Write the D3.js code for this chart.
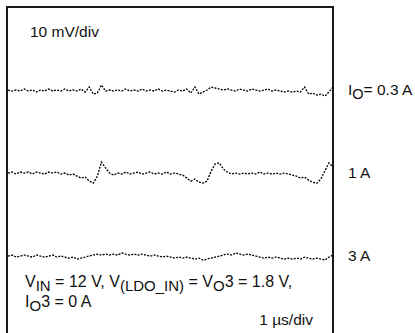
<!DOCTYPE html>
<html>
<head>
<meta charset="utf-8">
<script src="https://cdn.jsdelivr.net/npm/d3@7"></script>
<style>
  body { margin: 0; background: #fff; }
  svg text { font-family: "Liberation Sans", Arial, sans-serif; fill: #111; }
</style>
</head>
<body>
<div id="chart"></div>
<script>
// time axis: 0..10 us, 1 us/div ; vertical: 10 mV/div
const timeSpan = [0, 10];
const voltSpan = [0, 80];

// trace labels (text in _{} is a subscript)
const seriesLabels = ["I_{O}= 0.3 A", "1 A", "3 A"];
// screen offset of each trace, mV
const seriesOffsets = [59.5, 39, 18.5];

const ripple03A = [
  0, -0.25, 0, -0.25, 0.25, -0.25, 0, -0.5, 0, -0.25,
  0.25, -0.25, 0, -0.25, 0.25, -0.25, 0, -0.25, 0.25, -0.5,
  0.75, -1, -0.75, 1.25, -0.25, 0, -0.25, 0, -0.25, 0.25,
  -0.25, 0, -0.25, 0.25, -0.25, 0, -0.25, 0.25, -0.25, 0,
  -0.25, -0.5, 0, -0.25, 0.25, -0.75, 0.75, -1, -0.5, 0,
  0.75, 0.5, 0.25, 0, 0.25, 0, -0.25, 0.25, 0, -0.25,
  0.25, 0, -0.25, 0, 0.25, -0.25, 0, -0.25, -0.5, -0.25,
  -0.5, -0.25, -0.5, 0.75, -1, -0.75, -1.25, -1, -1.5, -0.5, 0.75
];
const ripple1A = [
  0, 0.25, -0.25, 0.25, 0, 0.25, -0.25, 0.25, 0, -0.25,
  0.25, 0, 0.25, -0.25, 0, -0.5, -0.25, -0.75, -1.25, -1,
  -2, -2.5, -0.75, 2.75, 1.25, 0, -0.5, 0, -0.25, 0.25,
  -0.25, 0, 0.25, -0.25, 0, 0.25, -0.25, 0, -0.25, 0.25,
  -0.25, 0, -0.25, -0.5, -1.25, -2, -1.5, -2.25, -2.5, -2,
  0.5, 2.25, 2.5, 1, 0.25, -0.25, 0, -0.25, 0, -0.25,
  0, -0.25, 0.25, -0.25, 0, -0.25, 0, -0.25, 0, -0.25,
  -0.5, -0.75, -1.25, -1, -1.75, -2.25, -2.5, -1.5, 0.5, 2.5, 1.5
];
const ripple3A = [
  0, 0.25, -0.25, 0, 0.25, 0, -0.25, 0.25, 0, -0.25,
  0, 0.25, -0.25, 0, -0.25, -0.5, -0.25, -0.75, -0.5, -0.25,
  0, 0.25, 0.5, 0.25, 0.5, 0.25, 0.5, 0.25, 0.75, 0.5,
  0.25, 0.5, 0.25, 0.5, 0.25, 0, 0.25, 0, -0.25, 0,
  -0.25, -0.5, -0.25, -0.5, -0.25, -0.5, -0.75, -0.5, -1, -0.75,
  -0.5, -0.25, 0, 0.25, 0.5, 0.25, 0.75, 0.5, 0.25, 0.5,
  0.25, 0, -0.25, -0.5, -0.25, -0.5, -0.25, -0.5, -0.75, -0.5,
  -0.75, -0.5, -0.75, -0.25, -0.5, -0.75, -0.5, -0.75, -1, -0.25, 0.25
];
const seriesValues = [ripple03A, ripple1A, ripple3A];

const scaleNote = "10 mV/div";
const timeNote = "1 \u00b5s/div";
const conditionLines = [
  "V_{IN} = 12 V, V_{(LDO_IN)} = V_{O}3 = 1.8 V,",
  "I_{O}3 = 0 A"
];

const W = 415, H = 333;
const box = { left: 7, top: 7, right: 333, bottom: 331 };
const fontSize = 16;

const svg = d3.select("#chart").append("svg")
  .attr("width", W)
  .attr("height", H);

const x = d3.scaleLinear().domain(timeSpan).range([box.left + 1, box.right]);
const y = d3.scaleLinear().domain(voltSpan).range([box.bottom, box.top]);

// write text with _{..} subscripts as tspans
function richText(sel, str, size) {
  const parts = str.split(/(_\{[^}]*\})/).filter(s => s.length);
  let sub = false;
  parts.forEach(function(p) {
    if (p.startsWith("_{")) {
      sel.append("tspan").attr("dy", 3.5).style("font-size", (size - 1) + "px").text(p.slice(2, -1));
      sub = true;
    } else {
      sel.append("tspan").attr("dy", sub ? -3.5 : 0).style("font-size", size + "px").text(p);
      sub = false;
    }
  });
}

// frame (open at the bottom, runs off the picture)
svg.append("path")
  .attr("d", "M" + box.left + "," + (H + 5) + "V" + box.top + "H" + box.right + "V" + (H + 5))
  .attr("fill", "none")
  .attr("stroke", "#1a1a1a")
  .attr("stroke-width", 2);

const line = d3.line()
  .x(d => x(d.t))
  .y(d => y(d.v));

seriesValues.forEach(function(vals, k) {
  const pts = vals.map((v, i) => ({
    t: timeSpan[0] + i * (timeSpan[1] - timeSpan[0]) / (vals.length - 1),
    v: seriesOffsets[k] + v
  }));
  svg.append("path")
    .datum(pts)
    .attr("fill", "none")
    .attr("stroke", "#000")
    .attr("stroke-width", 1.3)
    .attr("stroke-dasharray", "2,1.3")
    .attr("d", line);

  const lbl = svg.append("text")
    .attr("x", 348)
    .attr("y", y(seriesOffsets[k]) + 5);
  richText(lbl, seriesLabels[k], fontSize - 0.5);
});

svg.append("text")
  .attr("x", 30)
  .attr("y", 37)
  .style("font-size", (fontSize - 0.5) + "px")
  .text(scaleNote);

conditionLines.forEach(function(s, i) {
  const t = svg.append("text")
    .attr("x", 25)
    .attr("y", 287 + i * 20);
  richText(t, s, fontSize);
});

svg.append("text")
  .attr("x", 313)
  .attr("y", 325)
  .attr("text-anchor", "end")
  .style("font-size", (fontSize - 0.5) + "px")
  .text(timeNote);
</script>
</body>
</html>
